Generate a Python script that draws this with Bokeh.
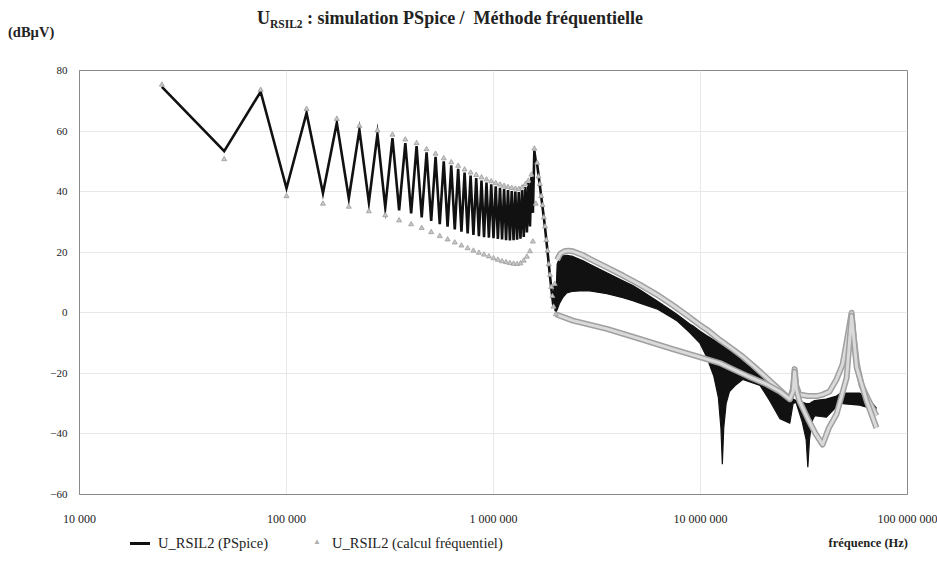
from bokeh.plotting import figure
from bokeh.layouts import column
from bokeh.models import FixedTicker, Range1d, Div
from bokeh.embed import file_html
from bokeh.resources import INLINE

# ---------------- data ----------------
# odd harmonics of the 25 kHz fundamental (kHz) and their levels (dBuV)
odd_f_khz = [25, 75, 125, 175, 225, 275, 325, 375, 425, 475, 525, 575, 625, 675,
             725, 775, 825, 875, 925, 975, 1025, 1075, 1125, 1175, 1225, 1275,
             1325, 1375, 1425, 1475, 1525, 1575, 1625, 1675, 1725, 1775, 1825,
             1875, 1925, 1975]
odd_pspice = [74.6, 73.0, 66.0, 62.7, 60.4, 59.0, 57.7, 56.0, 55.0, 53.0, 51.5, 50.0,
              48.7, 47.5, 46.3, 45.3, 44.5, 43.7, 43.0, 42.4, 41.8, 41.3, 40.9, 40.5,
              40.2, 40.0, 39.9, 40.5, 41.5, 42.8, 44.8, 53.5, 49.0, 42.0, 35.0, 28.0,
              20.0, 12.0, 5.0, 9.0]
odd_calc = [75.3, 73.6, 67.3, 64.0, 61.7, 60.2, 58.8, 57.2, 56.0, 54.0, 52.5, 51.0,
            49.7, 48.5, 47.3, 46.3, 45.5, 44.7, 44.0, 43.4, 42.8, 42.3, 41.9, 41.5,
            41.2, 41.0, 40.9, 41.4, 42.4, 43.6, 45.6, 54.2, 49.5, 42.5, 35.5, 28.5,
            20.5, 12.5, 5.5, 9.5]
# even harmonics
even_f_khz = [50, 100, 150, 200, 250, 300, 350, 400, 450, 500, 550, 600, 650, 700,
              750, 800, 850, 900, 950, 1000, 1050, 1100, 1150, 1200, 1250, 1300,
              1350, 1400, 1450, 1500, 1550, 1600, 1650, 1700, 1750, 1800, 1850,
              1900, 1950, 2000]
even_pspice = [53.4, 41.1, 39.5, 37.8, 36.5, 34.8, 33.8, 32.8, 31.5, 30.3,
               29.3, 28.4, 27.5, 26.8, 26.2, 25.7, 25.3, 25.0, 24.8, 24.6,
               24.4, 24.2, 24.0, 23.9, 24.0, 24.1, 24.5, 25.0, 26.5, 28.5,
               33.0, 50.0, 45.5, 38.5, 31.5, 24.0, 16.0, 8.5, 2.0, 0.5]
even_calc = [50.7, 38.5, 36.0, 35.0, 33.5, 32.2, 30.5, 29.2, 28.0, 26.6,
             25.3, 24.2, 23.2, 22.2, 21.3, 20.5, 19.8, 19.2, 18.6, 18.0,
             17.5, 17.0, 16.7, 16.4, 16.2, 16.1, 16.3, 17.2, 18.5, 20.3,
             23.5, 36.0, 45.0, 38.5, 31.5, 24.0, 16.0, 8.5, 2.0, -0.5]

# above 2 MHz the PSpice harmonics fill a band: upper / lower envelope
band_f_mhz = [1.99, 2.03, 2.08, 2.16, 2.26, 2.42, 2.71, 2.92, 3.53, 4.22, 4.71, 5.09,
              6.15, 7.35, 7.68, 8.87, 9.18, 9.92, 10.7, 11.6, 12.2, 12.55, 12.75,
              12.95, 13.3, 13.8, 14.7, 16.0, 19.4, 21.6, 24.2, 27.0, 28.0, 28.9,
              31.0, 32.4, 33.0, 33.6, 34.5, 35.6, 40.5, 45.4, 47.6, 48.6, 58.7,
              66.0, 70.8]
band_hi = [0.5, 16.0, 18.0, 18.8, 19.0, 18.6, 17.2, 16.0, 13.2, 10.6, 9.0, 7.6,
           4.0, 0.4, -0.5, -3.7, -4.3, -6.0, -7.5, -9.0, -10.0, -10.5, -10.8,
           -11.0, -11.5, -12.2, -13.5, -16.0, -20.5, -23.0, -25.5, -28.0, -28.5, -29.0,
           -29.5, -30.0, -30.0, -30.0, -29.5, -29.0, -28.5, -27.5, -26.5, -26.5, -26.5,
           -29.0, -31.5]
band_lo = [0.0, 1.0, 3.0, 5.0, 6.6, 7.1, 7.3, 7.2, 6.3, 5.0, 4.0, 3.2,
           1.3, -1.8, -2.6, -6.5, -7.6, -10.0, -14.5, -21.0, -28.0, -38.0, -50.0,
           -38.0, -30.0, -26.0, -24.0, -22.0, -24.0, -29.0, -35.0, -36.5, -30.0, -29.5,
           -36.0, -42.0, -51.0, -42.0, -36.0, -34.0, -34.5, -31.0, -28.0, -30.0, -30.5,
           -31.5, -33.0]

# frequency-method result above 2 MHz: odd-harmonic and even-harmonic curves
calc_hi_f_mhz = [2.03, 2.1, 2.2, 2.3, 2.42, 2.71, 2.92, 3.53, 4.22, 5.09, 6.15, 7.35,
                 8.87, 9.92, 10.7, 12.4, 14.3, 16.0, 18.0, 20.9, 24.2, 27.0, 28.0,
                 28.5, 29.0, 30.0, 33.0, 36.5, 39.0, 42.0, 45.4, 48.6, 51.0, 53.7,
                 55.0, 57.0, 60.0, 65.0, 70.8]
calc_hi_db = [17.5, 19.5, 20.3, 20.5, 20.3, 19.0, 17.8, 15.0, 12.3, 9.3, 6.0, 2.5,
              -1.5, -4.0, -5.5, -9.0, -12.0, -14.5, -17.5, -21.5, -25.5, -28.5, -25.0,
              -18.6, -24.0, -27.0, -27.5, -27.5, -27.0, -26.0, -22.0, -17.0, -9.0, 0.0,
              -8.0, -17.0, -24.0, -29.0, -34.0]
calc_lo_f_mhz = [2.0, 2.42, 3.53, 5.09, 7.35, 10.7, 12.4, 14.3, 17.0, 20.9, 24.2, 27.0,
                 28.0, 28.5, 29.0, 30.0, 33.0, 36.0, 38.9, 41.7, 45.4, 50.8, 53.7,
                 56.8, 63.4, 70.8]
calc_lo_db = [-0.5, -2.6, -5.3, -8.6, -12.0, -15.3, -16.6, -18.6, -21.0, -23.6, -26.0,
              -28.5, -26.0, -19.5, -25.0, -29.0, -35.0, -40.0, -43.5, -38.0, -33.5,
              -21.5, -1.0, -18.0, -29.0, -38.0]

x_ticks = [1e4, 1e5, 1e6, 1e7, 1e8]
x_tick_labels = ["10 000", "100 000", "1 000 000", "10 000 000", "100 000 000"]
y_ticks = [-60, -40, -20, 0, 20, 40, 60, 80]

KHZ = 1e3
MHZ = 1e6

# ---------------- tables built from the data ----------------
def merge(fa, da, fb, db):
    pts = sorted(list(zip(fa, da)) + list(zip(fb, db)))
    return [q[0] * KHZ for q in pts], [q[1] for q in pts]

ps_f, ps_db = merge(odd_f_khz, odd_pspice, even_f_khz, even_pspice)
ca_f, ca_db = merge(odd_f_khz, odd_calc, even_f_khz, even_calc)
band_f = [v * MHZ for v in band_f_mhz]
chi_f = [v * MHZ for v in calc_hi_f_mhz]
clo_f = [v * MHZ for v in calc_lo_f_mhz]

SERIF = "Liberation Serif"
W = 937
TOP_H, BOT_H = 40, 32
FIG_H = 562 - TOP_H - BOT_H

p = figure(width=W, height=FIG_H, x_axis_type="log",
           x_range=Range1d(1e4, 1e8), y_range=Range1d(-60, 80),
           output_backend="svg", toolbar_location=None,
           min_border_left=79, min_border_right=30,
           min_border_top=30, min_border_bottom=36)
p.background_fill_color = "white"
p.border_fill_color = "white"
p.outline_line_color = "#8a8a8a"

for ax in (p.xaxis[0], p.yaxis[0]):
    ax.axis_line_color = "#8a8a8a"
    ax.major_tick_line_color = None
    ax.minor_tick_line_color = None
    ax.major_tick_out = 0
    ax.major_tick_in = 0
    ax.minor_tick_out = 0
    ax.minor_tick_in = 0
    ax.major_label_text_font = SERIF
    ax.major_label_text_color = "#222222"

p.xaxis.ticker = FixedTicker(ticks=x_ticks)
p.xaxis.major_label_overrides = {t: l for t, l in zip(x_ticks, x_tick_labels)}
p.xaxis.major_label_standoff = 17
p.xaxis.major_label_text_font_size = "12px"
p.yaxis.ticker = FixedTicker(ticks=y_ticks)
p.yaxis.major_label_standoff = 12
p.yaxis.major_label_text_font_size = "11px"

p.xgrid.ticker = FixedTicker(ticks=x_ticks)
p.ygrid.ticker = FixedTicker(ticks=y_ticks)
p.xgrid.grid_line_color = "#e8e8e8"
p.ygrid.grid_line_color = "#e8e8e8"

# PSpice
p.line(ps_f, ps_db, line_color="#111111", line_width=2.6, line_join="miter")
p.varea(x=band_f, y1=band_lo, y2=band_hi, fill_color="#111111")
p.line(band_f, band_hi, line_color="#111111", line_width=1.2)
p.line(band_f, band_lo, line_color="#111111", line_width=1.2)

# frequency method
for fx, dy in ((chi_f, calc_hi_db), (clo_f, calc_lo_db)):
    p.line(fx, dy, line_color="#a0a0a0", line_width=6, line_join="round")
    p.line(fx, dy, line_color="#dadada", line_width=3, line_join="round")
p.scatter(ca_f, ca_db, marker="triangle", size=5,
          fill_color="#c8c8c8", line_color="#9a9a9a", line_width=0.8)

FONT = "font-family:'Liberation Serif',serif;color:#222;"
top = Div(width=W, height=TOP_H, margin=0, text=(
    f'<div style="position:relative;width:{W}px;height:{TOP_H}px;{FONT}">'
    '<span style="position:absolute;left:257px;top:9px;font-size:18px;font-weight:bold;'
    'white-space:nowrap;line-height:19px">U<span style="font-size:11.5px;position:relative;top:4px">RSIL2</span>'
    ' : simulation PSpice /&nbsp; Méthode fréquentielle</span>'
    '<span style="position:absolute;left:8px;top:25px;font-size:14.5px;font-weight:bold;'
    'line-height:15px;white-space:nowrap">(dBµV)</span></div>'))

bottom = Div(width=W, height=BOT_H, margin=0, text=(
    f'<div style="position:relative;width:{W}px;height:{BOT_H}px;{FONT}font-size:14.5px">'
    '<span style="position:absolute;left:130px;top:12px;width:20px;height:0;'
    'border-top:3px solid #111"></span>'
    '<span style="position:absolute;left:158px;top:5px;line-height:16px;white-space:nowrap">'
    'U_RSIL2 (PSpice)</span>'
    '<span style="position:absolute;left:313px;top:7px;line-height:10px;font-size:8px;'
    'color:#b0b0b0">&#9650;</span>'
    '<span style="position:absolute;left:332px;top:5px;line-height:16px;white-space:nowrap">'
    'U_RSIL2 (calcul fréquentiel)</span>'
    '<span style="position:absolute;right:29px;top:6px;line-height:14px;font-size:12.5px;'
    'font-weight:bold;white-space:nowrap">fréquence (Hz)</span></div>'))

layout = column(top, p, bottom, spacing=0)
open("out.html", "w").write(file_html(layout, INLINE))
